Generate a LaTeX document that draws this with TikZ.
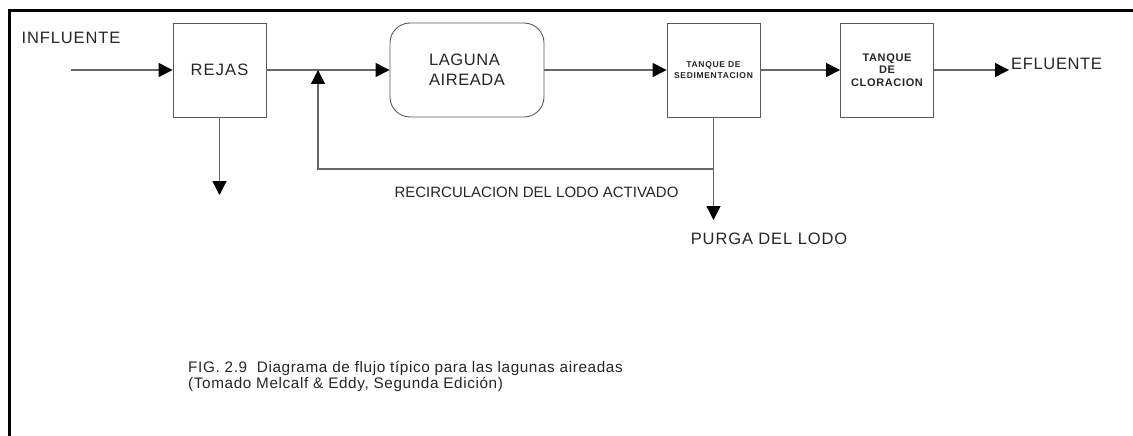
\documentclass[tikz,border=0pt]{standalone}
\usepackage{fontspec}
\setmainfont{Liberation Sans}
\usetikzlibrary{arrows.meta}
\usetikzlibrary{positioning}

\tikzset{
  unit/.style={draw=black!65, line width=0.9pt, minimum width=93pt, minimum height=94pt, inner sep=0pt, text=black!85},
  pipe/.style={draw=black!60, line width=1.3pt},
  flow/.style={pipe, -{Triangle[length=14pt,width=14pt,black]}},
  caps/.style={inner sep=0pt, text=black!85, font=\fontsize{16.5}{20}\selectfont\addfontfeature{LetterSpace=#1}},
  caps/.default=5,
  note/.style={inner sep=0pt, text=black!85, align=left, font=\fontsize{15.3}{16}\selectfont\addfontfeature{LetterSpace=4}}
}

\begin{document}
\begin{tikzpicture}[x=1pt,y=-1pt]
\useasboundingbox (0,0) rectangle (1133,436);

% frame
\draw[line width=3pt] (9,436) -- (9,11) -- (1133,11);

% units
\node[caps=5.5] (influente) at (71,38) {INFLUENTE};
\node[unit, caps=7] (rejas) at (219.5,70) {REJAS};
\node[unit, caps=3.5, minimum width=154pt, rounded corners=20pt, align=left] (laguna) at (467,70) {LAGUNA\\AIREADA};
\node[unit, align=center, font=\fontsize{8.5}{11}\selectfont\bfseries\addfontfeature{LetterSpace=8}] (sedim) at (713.5,70) {TANQUE DE\\SEDIMENTACION};
\node[unit, align=center, font=\fontsize{11}{12.5}\selectfont\bfseries\addfontfeature{LetterSpace=6}] (clor) at (887,70) {TANQUE\\DE\\CLORACION};
\node[caps=4, anchor=west] (efluente) at (1011,64) {EFLUENTE};

% free ends
\coordinate (inflow) at (71,70);
\coordinate (screenings) at (219.5,195);
\coordinate (mix) at (318,70);
\coordinate (split) at (713.5,169);
\coordinate (purge) at (713.5,220);
\coordinate (outflow) at (1009,70);

% main line
\draw[flow] (inflow) -- (rejas.west);
\draw[flow] (rejas.south) -- (screenings);
\draw[pipe] (rejas.east) -- (mix);
\draw[flow] (mix) -- (laguna.west);
\draw[flow] (laguna.east) -- (sedim.west);
\draw[flow] (sedim.east) -- (clor.west);
\draw[flow] (clor.east) -- (outflow);

% sludge
\draw[pipe] (sedim.south) -- (split);
\draw[flow] (split) -| (mix);
\draw[flow] (split) -- (purge);

\node[inner sep=0pt, text=black!85, font=\fontsize{15}{18}\selectfont] (recirc) at (536.5,192) {RECIRCULACION DEL LODO ACTIVADO};
\node[caps=5.3] (purga) at (769,239) {PURGA DEL LODO};

% caption
\node[note, anchor=north west] (caption) at (188,361) {FIG. 2.9\ \ Diagrama de flujo típico para las lagunas aireadas\\(Tomado Melcalf \& Eddy, Segunda Edición)};

\end{tikzpicture}
\end{document}
